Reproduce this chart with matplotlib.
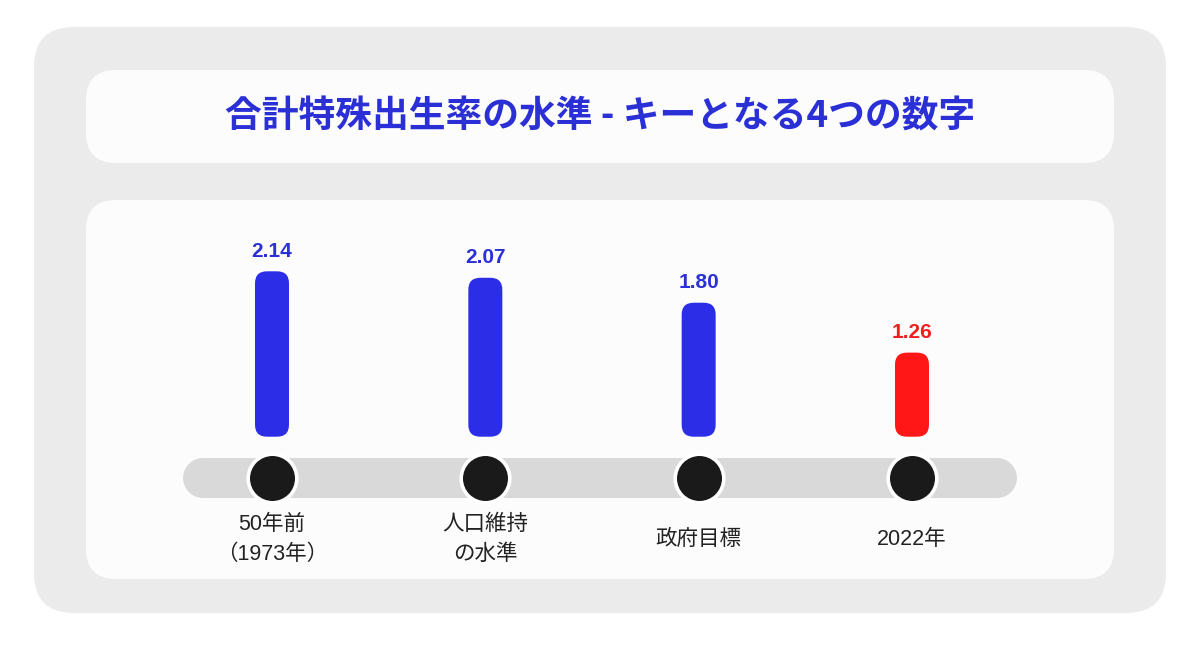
import matplotlib.pyplot as plt
from matplotlib.patches import FancyBboxPatch
import numpy as np

# data
categories = ["50年前\n（1973年）", "人口維持\nの水準", "政府目標", "2022年"]
values = [2.14, 2.07, 1.80, 1.26]
bar_colors = ["#2B2EE6", "#2B2EE6", "#2B2EE6", "#FF1616"]
label_colors = ["#2B30D6", "#2B30D6", "#2B30D6", "#F01E1E"]
title = "合計特殊出生率の水準 - キーとなる4つの数字"

W, H = 1200, 646
fig = plt.figure(figsize=(W / 100, H / 100), dpi=100)
fig.patch.set_facecolor("white")

# background boxes, in pixel coordinates
bg = fig.add_axes([0, 0, 1, 1])
bg.set_xlim(0, W)
bg.set_ylim(H, 0)
bg.axis("off")


def rbox(x0, y0, x1, y1, r, color):
    p = FancyBboxPatch((x0 + r, y0 + r), x1 - x0 - 2 * r, y1 - y0 - 2 * r,
                       boxstyle=f"round,pad={r}", fc=color, ec="none")
    bg.add_patch(p)


rbox(34, 27, 1166, 613, 40, "#EBEBEB")
rbox(86, 70, 1114, 163, 30, "#FCFCFC")
rbox(86, 200, 1114, 579, 30, "#FCFCFC")

bg.text(600, 117, title, ha="center", va="center", fontsize=26.5,
        fontweight="bold", color="#2B30D6",
        family=["Noto Sans CJK JP", "DejaVu Sans"])

# chart axes over the lower panel
px0, px1, py0, py1 = 86, 1114, 200, 579
ax = fig.add_axes([px0 / W, 1 - py1 / H, (px1 - px0) / W, (py1 - py0) / H])
ax.patch.set_alpha(0)
ax.axis("off")

xs = 213.33          # pixels per category step
ys = 92.4            # pixels per unit of rate
base = 0.35          # value where bars start
first_px, base_px = 272, 436.7
x_left = -(first_px - px0) / xs
y_top = base + (base_px - py0) / ys
ax.set_xlim(x_left, x_left + (px1 - px0) / xs)
ax.set_ylim(y_top - (py1 - py0) / ys, y_top)


def ypx(p):
    return y_top - (p - py0) / ys


x = np.arange(len(values))
bars = ax.bar(x, np.array(values) - base, bottom=base, width=34 / xs)
r = 12 / xs
for rect, col in zip(bars, bar_colors):
    rect.remove()
    ax.add_patch(FancyBboxPatch((rect.get_x(), rect.get_y()), rect.get_width(),
                                rect.get_height(),
                                boxstyle=f"round,pad=0,rounding_size={r}",
                                mutation_aspect=xs / ys, fc=col, ec="none",
                                zorder=2))

for xi, v, col in zip(x, values, label_colors):
    ax.annotate(f"{v:.2f}", (xi, v), xytext=(0, 14.5), textcoords="offset points",
                ha="center", va="center", fontsize=15, fontweight="bold",
                color=col, family=["Liberation Sans", "DejaVu Sans"])

# track with dots
track_y = ypx(478)
ax.plot([x[0] - 69 / xs, x[-1] + 85 / xs], [track_y, track_y], lw=28.8,
        solid_capstyle="round", color="#D9D9D9", zorder=1)
ax.scatter(x, [track_y] * len(x), s=35 ** 2, c="#1A1A1A",
           edgecolors="white", linewidths=2.6, zorder=3)

for xi, lab in zip(x, categories):
    ax.text(xi, ypx(539.5), lab, ha="center", va="center", fontsize=15.5,
            color="#222222", linespacing=1.6,
            family=["Liberation Sans", "Noto Sans CJK JP"])

fig.savefig("out.png", dpi=100, facecolor="white")
